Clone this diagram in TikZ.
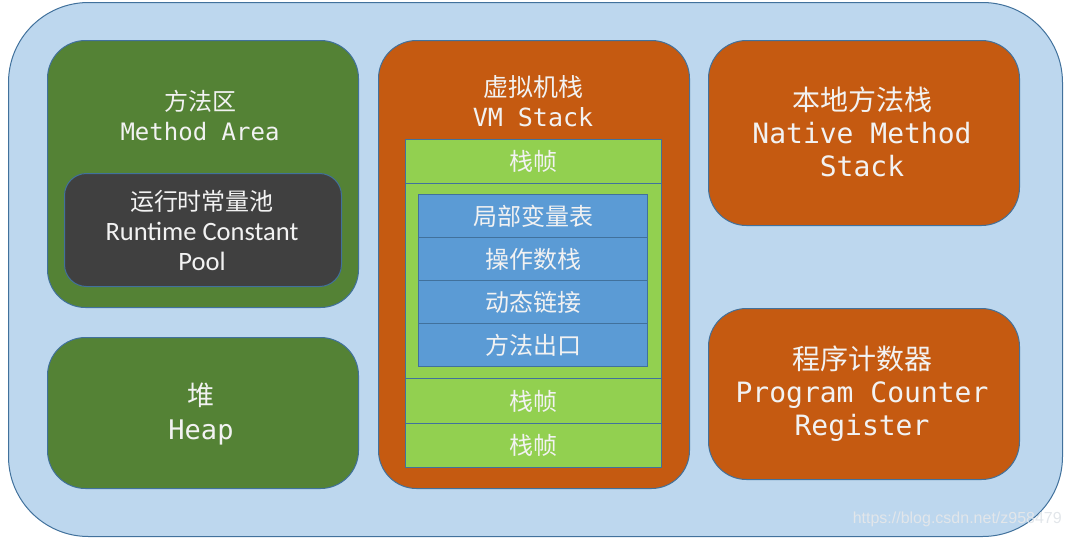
\documentclass[tikz,border=0pt]{standalone}
\usepackage{fontspec}
\setmainfont{Carlito}
\setmonofont{DejaVu Sans Mono}
\newfontfamily\cjk{Noto Sans CJK SC}
\newfontfamily\urlfont{Liberation Sans}
\definecolor{bgBlue}{HTML}{BDD7EE}
\definecolor{edgeBlue}{HTML}{41719C}
\definecolor{areaGreen}{HTML}{548235}
\definecolor{poolGray}{HTML}{404040}
\definecolor{stackOrange}{HTML}{C55A11}
\definecolor{frameGreen}{HTML}{92D050}
\definecolor{slotBlue}{HTML}{5B9BD5}
\definecolor{labelWhite}{HTML}{F2F2F2}
\definecolor{markGray}{HTML}{E2E6EA}

\begin{document}
\begin{tikzpicture}
[x=1pt,y=-1pt,
  boxDecorate/.style={draw=edgeBlue,line width=1pt,inner sep=0pt,anchor=north west},
  roundDecorate/.style={boxDecorate,rounded corners=#1},
  textDecorate/.style={text=labelWhite,align=center,inner sep=0pt}]
\useasboundingbox (0,0) rectangle (1069,539);
%% outer area
\node[roundDecorate=80pt,fill=bgBlue,minimum width=1054pt,minimum height=534pt] (runtime) at (8,2) {};
%% regions
\node[roundDecorate=38pt,fill=areaGreen,minimum width=311pt,minimum height=267pt] (method) at (47,40) {};
\node[roundDecorate=22pt,fill=poolGray,minimum width=277pt,minimum height=113pt] (pool) at (64,173) {};
\node[roundDecorate=38pt,fill=areaGreen,minimum width=311pt,minimum height=151pt] (heap) at (47,337) {};
\node[roundDecorate=38pt,fill=stackOrange,minimum width=311pt,minimum height=448pt] (vmstack) at (378,40) {};
\node[roundDecorate=38pt,fill=stackOrange,minimum width=311pt,minimum height=185pt] (native) at (708,40) {};
\node[roundDecorate=38pt,fill=stackOrange,minimum width=311pt,minimum height=171pt] (pc) at (708,308) {};
%% stack frames
\foreach \name/\y/\h in {frameA/139/44, frameB/183/195, frameC/378/45, frameD/423/44}
{
  \node[boxDecorate,fill=frameGreen,minimum width=256pt,minimum height=\h pt] (\name) at (405,\y) {};
}
\foreach \name/\y/\txt in {locals/194/局部变量表, operands/237/操作数栈, dynlink/280/动态链接, exit/323/方法出口}
{
  \node[boxDecorate,fill=slotBlue,minimum width=229pt,minimum height=43pt] (\name) at (418,\y) {};
  \node[textDecorate,font=\cjk\fontsize{24}{30}\selectfont] at (\name.center) {\txt};
}
\foreach \name in {frameA, frameC, frameD}
{
  \node[textDecorate,font=\cjk\fontsize{24}{30}\selectfont] at (\name.center) {栈帧};
}
%% labels
\node[textDecorate,font=\fontsize{24}{30}\selectfont] (methodTxt) at (200,116)
  {{\cjk 方法区}\\{\ttfamily Method Area}};
\node[textDecorate,font=\fontsize{26.5}{30}\selectfont] (poolTxt) at (202,230)
  {{\cjk\fontsize{24}{30}\selectfont 运行时常量池}\\Runtime Constant\\Pool};
\node[textDecorate,font=\fontsize{27}{34}\selectfont] (heapTxt) at (201,414)
  {{\cjk 堆}\\{\ttfamily Heap}};
\node[textDecorate,font=\fontsize{25}{30}\selectfont] (vmTxt) at (533,101)
  {{\cjk 虚拟机栈}\\{\ttfamily VM Stack}};
\node[textDecorate,font=\fontsize{28}{33}\selectfont] (nativeTxt) at (862,132)
  {{\cjk 本地方法栈}\\{\ttfamily Native Method}\\{\ttfamily Stack}};
\node[textDecorate,font=\fontsize{28}{33}\selectfont] (pcTxt) at (862,394)
  {{\cjk 程序计数器}\\{\ttfamily Program Counter}\\{\ttfamily Register}};
%% watermark
\node[text=markGray,inner sep=0pt,anchor=east,font=\urlfont\fontsize{16}{18}\selectfont] (mark) at (1062,519) {https://blog.csdn.net/z958479};
\end{tikzpicture}
\end{document}
